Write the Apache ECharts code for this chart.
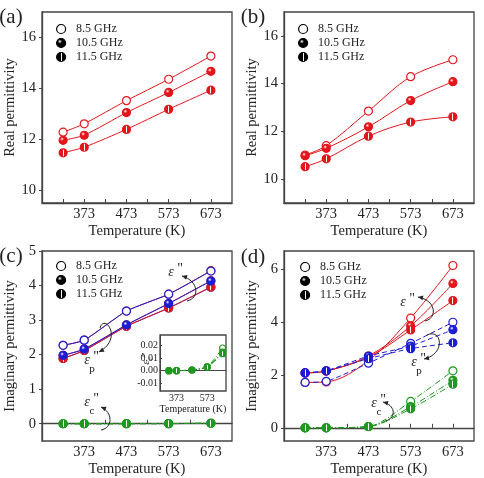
<!DOCTYPE html>
<html lang="en">
<head>
<meta charset="UTF-8">
<title>Permittivity vs temperature</title>
<style>html,body{margin:0;padding:0;background:#fff;}</style>
</head>
<body>
<div id="main" style="width:484px;height:478px;"></div>
<script src="https://cdn.jsdelivr.net/npm/echarts@6/dist/echarts.min.js"></script>
<script>
var temps = [323, 373, 473, 573, 673];
var freqs = ['8.5 GHz', '10.5 GHz', '11.5 GHz'];
var xLabels = [373, 473, 573, 673];
var xTicks = [323, 373, 423, 473, 523, 573, 623, 673];

// (a) real permittivity
var realA85 = [12.28, 12.61, 13.52, 14.36, 15.27];
var realA105 = [11.96, 12.16, 13.05, 13.84, 14.67];
var realA115 = [11.47, 11.69, 12.39, 13.18, 13.93];
// (b) real permittivity
var realB85 = [11.01, 11.40, 12.85, 14.29, 15.00];
var realB105 = [10.98, 11.29, 12.19, 13.29, 14.08];
var realB115 = [10.52, 10.85, 11.80, 12.39, 12.61];
// (c) imaginary: total, polarization, conduction
var epsC85 = [2.27, 2.42, 3.26, 3.75, 4.43];
var epsC105 = [1.98, 2.16, 2.86, 3.48, 4.14];
var epsC115 = [1.89, 2.12, 2.82, 3.35, 3.96];
var epC85 = [2.27, 2.42, 3.26, 3.75, 4.42];
var epC105 = [1.98, 2.16, 2.86, 3.48, 4.13];
var epC115 = [1.89, 2.12, 2.82, 3.35, 3.95];
var ecC85 = [0, 0, 0.0005, 0.003, 0.0178];
var ecC105 = [0, 0, 0.0005, 0.003, 0.0145];
var ecC115 = [0, 0, 0.0005, 0.0028, 0.0133];
// (d) imaginary: total, polarization, conduction
var epsD85 = [1.72, 1.74, 2.55, 4.16, 6.15];
var epsD105 = [2.08, 2.15, 2.72, 3.86, 5.47];
var epsD115 = [2.08, 2.15, 2.68, 3.71, 4.82];
var epD85 = [1.72, 1.76, 2.45, 3.20, 4.00];
var epD105 = [2.08, 2.16, 2.72, 3.10, 3.72];
var epD115 = [2.08, 2.16, 2.62, 3.00, 3.22];
var ecD85 = [0, 0, 0.05, 1.00, 2.16];
var ecD105 = [0, 0, 0.05, 0.80, 1.80];
var ecD115 = [0, 0, 0.04, 0.72, 1.65];

var RED = '#e3161c', BLUE = '#1c1cd6', GREEN = '#1f991f';
var FONT = 'Liberation Serif';

function fill(kind, c) {
  if (kind === 'open') return '#fff';
  if (kind === 'full') {
    return { type: 'radial', x: 0.38, y: 0.35, r: 0.7,
      colorStops: [{ offset: 0, color: '#fff' }, { offset: 0.3, color: c }, { offset: 1, color: c }] };
  }
  return { type: 'linear', x: 0, y: 0, x2: 1, y2: 0,
    colorStops: [{ offset: 0, color: c }, { offset: 0.45, color: c }, { offset: 0.45, color: '#fff' },
      { offset: 0.55, color: '#fff' }, { offset: 0.55, color: c }, { offset: 1, color: c }] };
}
var kinds = ['open', 'full', 'half'];

function line(fi, data, gi, color, dash, smooth, size) {
  return {
    type: 'line', name: freqs[fi], xAxisIndex: gi, yAxisIndex: gi,
    data: temps.map(function (t, i) { return [t, data[i]]; }),
    smooth: smooth, symbol: 'circle', symbolSize: size || 8,
    lineStyle: { color: color, width: 1, type: dash || 'solid' },
    itemStyle: { color: fill(kinds[fi], color), borderColor: color, borderWidth: 1.2 },
    emphasis: { disabled: true }
  };
}

var grids = [
  { left: 42, top: 12, width: 190, height: 191 },
  { left: 284, top: 12, width: 190, height: 191 },
  { left: 42, top: 251, width: 190, height: 190 },
  { left: 284, top: 251, width: 190, height: 190 },
  { left: 160, top: 335, width: 66, height: 56 }
];
grids.forEach(function (g) {
  g.show = true; g.borderColor = '#444'; g.borderWidth = 1.3; g.backgroundColor = '#fff';
});

function xAxis(gi) {
  return {
    type: 'value', gridIndex: gi, min: 273, max: 723,
    name: 'Temperature (K)', nameLocation: 'middle', nameGap: 21,
    nameTextStyle: { fontFamily: FONT, fontSize: 14.5, color: '#222' },
    axisLine: { show: true, lineStyle: { color: '#444', width: 1.3 } },
    axisTick: { show: true, inside: true, length: 4, customValues: xTicks, lineStyle: { color: '#444' } },
    axisLabel: { customValues: xLabels, margin: 4, fontFamily: FONT, fontSize: 14.5, color: '#222' },
    splitLine: { show: false }
  };
}
function yAxis(gi, min, max, labels, name) {
  return {
    type: 'value', gridIndex: gi, min: min, max: max,
    name: name, nameLocation: 'middle', nameGap: 24,
    nameTextStyle: { fontFamily: FONT, fontSize: 14.5, color: '#222' },
    axisLine: { show: true, lineStyle: { color: '#444', width: 1.3 } },
    axisTick: { show: true, length: 3, customValues: labels, lineStyle: { color: '#444' } },
    axisLabel: { customValues: labels, margin: 6, fontFamily: FONT, fontSize: 14.5, color: '#222' },
    splitLine: { show: false }
  };
}

var xAxes = [0, 1, 2, 3].map(xAxis);
xAxes.push({
  type: 'value', gridIndex: 4, min: 265, max: 695,
  name: 'Temperature (K)', nameLocation: 'middle', nameGap: 10,
  nameTextStyle: { fontFamily: FONT, fontSize: 10, color: '#222' },
  axisLine: { show: true, lineStyle: { color: '#444' } },
  axisTick: { show: true, inside: true, length: 2, customValues: [373, 473, 573] },
  axisLabel: { customValues: [373, 573], margin: 2, fontFamily: FONT, fontSize: 10, color: '#222' },
  splitLine: { show: false }
});
var yAxes = [
  yAxis(0, 9.5, 17, [10, 12, 14, 16], 'Real permittivity'),
  yAxis(1, 9, 17, [10, 12, 14, 16], 'Real permittivity'),
  yAxis(2, -0.5, 5, [0, 1, 2, 3, 4, 5], 'Imaginary permittivity'),
  yAxis(3, -0.5, 6.7, [0, 2, 4, 6], 'Imaginary permittivity'),
  {
    type: 'value', gridIndex: 4, min: -0.016, max: 0.028,
    axisLine: { show: true, lineStyle: { color: '#444' } },
    axisTick: { show: true, inside: true, length: 2, customValues: [-0.01, 0, 0.01, 0.02] },
    axisLabel: { customValues: [-0.01, 0, 0.01, 0.02], margin: 2, fontFamily: FONT, fontSize: 10, color: '#222',
      formatter: function (v) { return v.toFixed(2); } },
    splitLine: { show: false }
  }
];

var DD = [6, 2, 1, 2];
var series = [
  line(0, realA85, 0, RED, null, 0.2), line(1, realA105, 0, RED, null, 0.2), line(2, realA115, 0, RED, null, 0.2),
  line(0, realB85, 1, RED, null, 0.35), line(1, realB105, 1, RED, null, 0.35), line(2, realB115, 1, RED, null, 0.35),
  line(2, epC115, 2, BLUE, null, 0.2),
  line(0, epsC85, 2, RED, null, 0.2), line(1, epsC105, 2, RED, null, 0.2), line(2, epsC115, 2, RED, null, 0.2),
  line(0, epC85, 2, BLUE, null, 0.2), line(1, epC105, 2, BLUE, null, 0.2),
  line(0, ecC85, 2, GREEN, DD, 0.2), line(1, ecC105, 2, GREEN, DD, 0.2), line(2, ecC115, 2, GREEN, DD, 0.2),
  line(0, ecC85, 4, GREEN, DD, 0.2, 6), line(1, ecC105, 4, GREEN, DD, 0.2, 6), line(2, ecC115, 4, GREEN, DD, 0.2, 6),
  line(0, epsD85, 3, RED, null, 0.35), line(1, epsD105, 3, RED, null, 0.35), line(2, epsD115, 3, RED, null, 0.35),
  line(0, epD85, 3, BLUE, [5, 3], 0.2), line(1, epD105, 3, BLUE, [5, 3], 0.2), line(2, epD115, 3, BLUE, [5, 3], 0.2),
  line(0, ecD85, 3, GREEN, DD, 0.3), line(1, ecD105, 3, GREEN, DD, 0.3), line(2, ecD115, 3, GREEN, DD, 0.3)
];

function legend(left, top) {
  return {
    left: left, top: top, orient: 'vertical', itemWidth: 20, itemHeight: 9, itemGap: 0,
    selectedMode: false,
    textStyle: { fontFamily: FONT, fontSize: 12, lineHeight: 14, color: '#222' },
    data: freqs.map(function (f, i) {
      return { name: f, icon: 'circle',
        itemStyle: { color: fill(kinds[i], '#000'), borderColor: '#000', borderWidth: 1.2 } };
    })
  };
}

// annotations
var graphics = [];
function txt(x, y, s, size, italic) {
  graphics.push({ type: 'text', x: x, y: y, z: 100,
    style: { text: s, fill: '#222', font: (italic ? 'italic ' : '') + size + 'px "' + FONT + '"',
      align: 'center', verticalAlign: 'middle' } });
}
function arrow(p0, c1, c2, p1) {
  var dx = p1[0] - c2[0], dy = p1[1] - c2[1], L = Math.sqrt(dx * dx + dy * dy);
  var ux = dx / L, uy = dy / L, s = 5, w = 2.4;
  var bx = p1[0] - ux * s, by = p1[1] - uy * s;
  graphics.push({ type: 'bezierCurve', z: 100,
    shape: { x1: p0[0], y1: p0[1], cpx1: c1[0], cpy1: c1[1], cpx2: c2[0], cpy2: c2[1], x2: p1[0], y2: p1[1] },
    style: { stroke: '#222', fill: 'none', lineWidth: 1 } });
  graphics.push({ type: 'polygon', z: 100,
    shape: { points: [p1, [bx - uy * w, by + ux * w], [bx + uy * w, by - ux * w]] },
    style: { fill: '#222' } });
}
function eps(x, y, sub) {
  txt(x, y, 'ε', 14, true);
  txt(x + 9, y - 3, '"', 14, false);
  if (sub) txt(x + 5, y + 9, sub, 11, false);
}
txt(11, 17, '(a)', 21); txt(253, 17, '(b)', 21); txt(11, 256, '(c)', 21); txt(253, 257, '(d)', 21);
eps(171, 272); arrow([187, 301], [200, 298], [199, 281], [182, 276]);
eps(87, 360, 'p'); arrow([100, 328], [104, 313], [124, 338], [99, 352]);
eps(87, 402, 'c'); arrow([101, 430], [113, 428], [113, 412], [101, 407]);
eps(403, 302); arrow([425, 321], [438, 318], [436, 300], [418, 297]);
eps(414, 362, 'p'); arrow([427, 335], [442, 328], [446, 354], [424, 359]);
eps(374, 403, 'c'); arrow([386, 421], [397, 417], [395, 405], [383, 402]);
graphics.push({ type: 'text', x: 146, y: 359, rotation: Math.PI / 2, z: 100,
  style: { text: 'ε "', fill: '#222', font: 'italic 11px "' + FONT + '"', align: 'center', verticalAlign: 'middle' } });
graphics.push({ type: 'text', x: 151, y: 359, rotation: Math.PI / 2, z: 100,
  style: { text: 'c', fill: '#222', font: '8px "' + FONT + '"', align: 'center', verticalAlign: 'middle' } });

var chart = echarts.init(document.getElementById('main'));
chart.setOption({
  animation: false,
  grid: grids,
  xAxis: xAxes,
  yAxis: yAxes,
  legend: [legend(51, 17), legend(293, 17), legend(51, 254), legend(295, 255)],
  series: series,
  graphic: graphics
});
</script>
</body>
</html>
